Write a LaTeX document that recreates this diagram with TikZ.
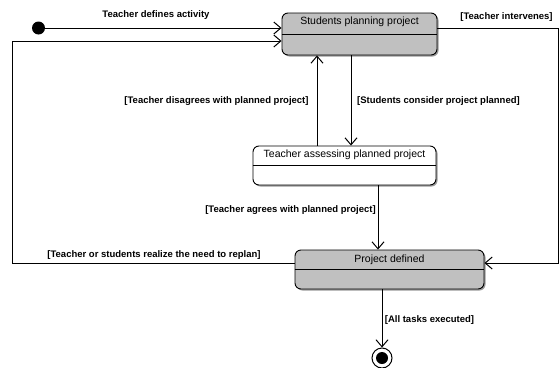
\documentclass[tikz,border=0pt]{standalone}
\usepackage{fontspec}
\setmainfont{Liberation Sans}
\usetikzlibrary{arrows.meta,shadows}
\definecolor{stfill}{HTML}{C0C0C0}
\begin{document}
\begin{tikzpicture}[x=1pt,y=-1pt,
  state/.style={draw=black, line width=0.9pt, rounded corners=6pt, fill=#1,
    inner sep=0pt, font=\fontsize{10.5}{12}\selectfont,
    drop shadow={shadow xshift=1.5pt, shadow yshift=-1.5pt, opacity=0.4, fill=black}},
  trans/.style={draw=black, line width=1pt,
    -{Straight Barb[length=7pt,width=12pt,line width=1pt]}},
  lbl/.style={font=\bfseries\fontsize{9.5}{11}\selectfont, inner sep=0pt},
  pseudo/.style={circle, inner sep=0pt}]
\useasboundingbox (0,0) rectangle (559,367);

% states
\node[state=stfill, minimum width=155pt, text height=11.5pt, text depth=30.5pt]
  (plan) at (359.5,34) {Students planning project};
\node[state=white, minimum width=183pt, text height=11pt, text depth=28pt]
  (assess) at (344.5,165.5) {Teacher assessing planned project};
\node[state=stfill, minimum width=189pt, text height=12pt, text depth=27pt]
  (proj) at (389.5,269.5) {Project defined};
\draw[line width=0.9pt] (plan.west) -- (plan.east);
\draw[line width=0.9pt] (assess.west) -- (assess.east);
\draw[line width=0.9pt] (proj.west) -- (proj.east);

% initial and final pseudostates
\node[pseudo, fill=black, minimum size=13pt] (init) at (38.5,28) {};
\node[pseudo, draw=black, line width=1pt, fill=white, minimum size=20pt] (final) at (382,358) {};
\fill (final.center) circle[radius=6pt];

% transitions
\draw[trans] (init) -- (init -| plan.west);
\draw[trans] (proj.west |- 0,263) -| (12,41) -- (plan.west |- 0,41);
\draw[trans] (plan.east |- 0,28) -| (558,263) -- (proj.east |- 0,263);
\draw[trans] (assess.north -| 317,0) -- (plan.south -| 317,0);
\draw[trans] (plan.south -| 351,0) -- (assess.north -| 351,0);
\draw[trans] (assess.south -| 378,0) -- (proj.north -| 378,0);
\draw[trans] (proj.south -| 382,0) -- (final.north);

% guards and events
\node[lbl] (l1) at (156,15) {Teacher defines activity};
\node[lbl] (l2) at (506.5,17.5) {[Teacher intervenes]};
\node[lbl] (l3) at (216.5,101) {[Teacher disagrees with planned project]};
\node[lbl] (l4) at (438.5,101) {[Students consider project planned]};
\node[lbl] (l5) at (290.5,210) {[Teacher agrees with planned project]};
\node[lbl] (l6) at (154,255) {[Teacher or students realize the need to replan]};
\node[lbl] (l7) at (429.5,320) {[All tasks executed]};
\end{tikzpicture}
\end{document}
